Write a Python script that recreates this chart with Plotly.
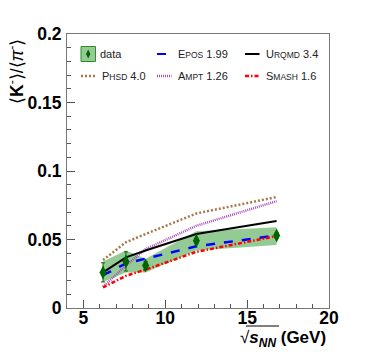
import plotly.graph_objects as go

# ---- data ----
energies = [6.2, 7.6, 8.8, 11.9, 16.8]
ratio = [0.026, 0.034, 0.031, 0.049, 0.053]
stat_err = [0.007, 0.007, 0.003, 0.002, 0.002]
sys_upper = [0.034, 0.042, 0.036, 0.056, 0.059]
sys_lower = [0.019, 0.026, 0.026, 0.042, 0.046]

phsd = [0.035, 0.048, 0.054, 0.069, 0.081]
ampt = [0.0155, 0.031, 0.043, 0.060, 0.078]
urqmd = [0.026, 0.037, 0.042, 0.054, 0.0635]
epos = [0.024, 0.0325, 0.036, 0.045, 0.053]
smash = [0.015, 0.0235, 0.028, 0.041, 0.0525]

xticks = [5, 10, 15, 20]
yticks = [0, 0.05, 0.1, 0.15, 0.2]
ytick_labels = ["0", "0.05", "0.1", "0.15", "0.2"]

FONT = "Liberation Sans"
L, R, T, B = 67, 329, 34, 308
W, H = 374, 359

def px(x):
    return (x - L) / (R - L)

def py(y):
    return (B - y) / (B - T)

fig = go.Figure()

# systematic band
fig.add_trace(go.Scatter(
    x=energies + energies[::-1], y=sys_upper + sys_lower[::-1],
    fill="toself", mode="lines", line=dict(width=0),
    fillcolor="rgba(60,160,60,0.55)", hoverinfo="skip", showlegend=False))

models = [
    (phsd, "#a8774a", "2px,2px", 2.5),
    (ampt, "#a94cc0", "1px,1px", 2.5),
    (urqmd, "black", "solid", 2),
    (epos, "#0000ff", "dash", 2.5),
    (smash, "#ff0000", "4px,2px,1.5px,2px", 2.5),
]
for vals, col, dash, w in models:
    fig.add_trace(go.Scatter(x=energies, y=vals, mode="lines",
                             line=dict(color=col, dash=dash, width=w),
                             showlegend=False))

fig.add_trace(go.Scatter(
    x=energies, y=ratio, mode="markers",
    marker=dict(symbol="diamond-tall", size=10, color="#006400"),
    error_y=dict(type="data", array=stat_err, color="#006400", thickness=1, width=2),
    showlegend=False))

# ---- legend (manual) ----
shapes = []
annotations = []
lgfont = dict(family=FONT, size=11, color="#222")
small = "<span style='font-size:8.5px'>%s</span>"

# data box
shapes.append(dict(type="rect", xref="paper", yref="paper",
                   x0=px(81), x1=px(95.5), y0=py(61.5), y1=py(46.5),
                   fillcolor="rgba(60,160,60,0.55)", line=dict(color="#2e8b2e", width=1)))
cx, cy = 88.2, 54
shapes.append(dict(type="path", xref="paper", yref="paper",
                   path="M %f,%f L %f,%f L %f,%f L %f,%f Z" % (
                       px(cx), py(cy - 4.5), px(cx + 2.2), py(cy), px(cx), py(cy + 4.5), px(cx - 2.2), py(cy)),
                   fillcolor="#006400", line=dict(width=0)))
annotations.append(dict(xref="paper", yref="paper", x=px(97.5), y=py(54), text="data",
                        showarrow=False, xanchor="left", yanchor="middle", font=lgfont))

entries = [
    (157, 54, "E" + small % "POS" + " 1.99", "#0000ff", "dash", 2),
    (245, 54, "U" + small % "RQMD" + " 3.4", "black", "solid", 2),
    (81, 76, "P" + small % "HSD" + " 4.0", "#a8774a", "2px,2px", 2.5),
    (157, 76, "A" + small % "MPT" + " 1.26", "#a94cc0", "1px,1px", 2.5),
    (245, 76, "S" + small % "MASH" + " 1.6", "#ff0000", "4px,2px,1.5px,2px", 2.5),
]
for x0, yy, txt, col, dash, w in entries:
    shapes.append(dict(type="line", xref="paper", yref="paper",
                       x0=px(x0), x1=px(x0 + 14.5), y0=py(yy), y1=py(yy),
                       line=dict(color=col, dash=dash, width=w)))
    annotations.append(dict(xref="paper", yref="paper", x=px(x0 + 18.5), y=py(yy), text=txt,
                            showarrow=False, xanchor="left", yanchor="middle", font=lgfont))

# axis titles
annotations.append(dict(xref="paper", yref="paper", x=px(16), y=py(72),
                        text="⟨<b>K</b><sup>-</sup>⟩/⟨<i>π</i><sup>-</sup>⟩", textangle=-90,
                        showarrow=False, xanchor="center", yanchor="middle",
                        font=dict(family=FONT, size=17.5, color="black")))
annotations.append(dict(xref="paper", yref="paper", x=px(328), y=py(339),
                        text="√<b><i>s</i><sub><i>NN</i></sub></b> <b>(GeV)</b>",
                        showarrow=False, xanchor="right", yanchor="middle",
                        font=dict(family=FONT, size=17, color="black")))
# radical overbar
shapes.append(dict(type="line", xref="paper", yref="paper",
                   x0=px(246), x1=px(279), y0=py(326), y1=py(326),
                   line=dict(color="black", width=1)))

axis_common = dict(showgrid=False, zeroline=False, showline=True, linecolor="#777", linewidth=1,
                   mirror=True, ticks="inside", tickcolor="#555", ticklen=8, tickwidth=1,
                   tickfont=dict(family=FONT, size=17.5, color="black", weight="bold"))

fig.update_layout(
    width=W, height=H,
    margin=dict(l=L, r=W - R, t=T, b=H - B),
    paper_bgcolor="white", plot_bgcolor="white",
    xaxis=dict(range=[4, 20], tickvals=xticks, ticklabelstandoff=-6,
               minor=dict(ticks="inside", ticklen=4, dtick=1, tick0=0, tickcolor="#555"),
               **axis_common),
    yaxis=dict(range=[0, 0.2], tickvals=yticks, ticktext=ytick_labels, ticklabelstandoff=1,
               minor=dict(ticks="inside", ticklen=4, dtick=0.01, tick0=0, tickcolor="#555"),
               **axis_common),
    shapes=shapes, annotations=annotations, showlegend=False,
)

fig.write_html("out.html", post_script="document.body.style.margin='0';",
               config={"displayModeBar": False})
